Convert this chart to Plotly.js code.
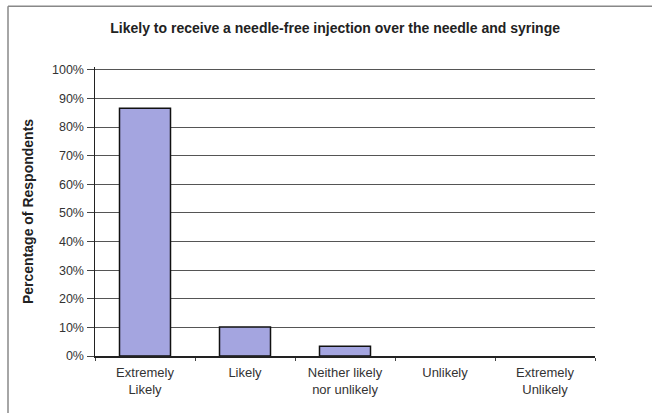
<!DOCTYPE html>
<html>
<head>
<meta charset="utf-8">
<script src="https://cdn.plot.ly/plotly-3.0.1.min.js"></script>
<style>
  html, body { margin: 0; padding: 0; background: #fff; }
  #chart { width: 652px; height: 413px; }
</style>
</head>
<body>
<div id="chart"></div>
<script>
// Survey responses: likelihood of choosing a needle-free injection
const categories = [
  "Extremely<br>Likely",
  "Likely",
  "Neither likely<br>nor unlikely",
  "Unlikely",
  "Extremely<br>Unlikely"
];
const percentRespondents = [0.866, 0.101, 0.034, 0, 0];
const yTickValues = [0, 0.1, 0.2, 0.3, 0.4, 0.5, 0.6, 0.7, 0.8, 0.9, 1.0];
const yTickLabels = ["0%", "10%", "20%", "30%", "40%", "50%", "60%", "70%", "80%", "90%", "100%"];

const font = "Arial, 'Liberation Sans', sans-serif";

// empty categories get no outline so nothing shows on the baseline
const outlineWidths = percentRespondents.map(v => (v > 0 ? 1.5 : 0));

const trace = {
  type: "bar",
  x: categories,
  y: percentRespondents,
  marker: {
    color: "#A4A5E0",
    line: { color: "#111", width: outlineWidths }
  },
  hoverinfo: "skip"
};

const layout = {
  width: 652,
  height: 413,
  margin: { l: 95, r: 57, t: 67, b: 57 },
  paper_bgcolor: "#fff",
  plot_bgcolor: "#fff",
  showlegend: false,
  bargap: 0.49,
  title: {
    text: "<b>Likely to receive a needle-free injection over the needle and syringe</b>",
    font: { family: font, size: 14, color: "#222" },
    x: 0.514, xanchor: "center",
    y: 0.933, yanchor: "middle"
  },
  xaxis: {
    type: "category",
    showline: true,
    linecolor: "#222",
    linewidth: 1.5,
    ticks: "outside",
    tickson: "boundaries",
    ticklen: 3,
    tickcolor: "#444",
    showgrid: false,
    ticklabelstandoff: 4,
    tickfont: { family: font, size: 13, color: "#333" },
    fixedrange: true
  },
  yaxis: {
    range: [0, 1.01],
    tickvals: yTickValues,
    ticktext: yTickLabels,
    showline: true,
    linecolor: "#222",
    linewidth: 1.5,
    ticks: "outside",
    ticklen: 7,
    tickcolor: "#444",
    showgrid: true,
    gridcolor: "#555",
    gridwidth: 1,
    zeroline: false,
    tickfont: { family: font, size: 12.5, color: "#333" },
    title: {
      text: "<b>Percentage of Respondents</b>",
      font: { family: font, size: 14, color: "#222" },
      standoff: 15
    },
    fixedrange: true
  },
  shapes: [
    // frame around the chart (top and left edges)
    { type: "line", xref: "paper", yref: "paper", x0: -0.174, x1: 1.2, y0: 1.21, y1: 1.21,
      line: { color: "#888", width: 1.5 } },
    { type: "line", xref: "paper", yref: "paper", x0: -0.174, x1: -0.174, y0: 1.21, y1: -0.25,
      line: { color: "#888", width: 1.5 } }
  ]
};

Plotly.newPlot("chart", [trace], layout, { displayModeBar: false, staticPlot: true });
</script>
</body>
</html>
